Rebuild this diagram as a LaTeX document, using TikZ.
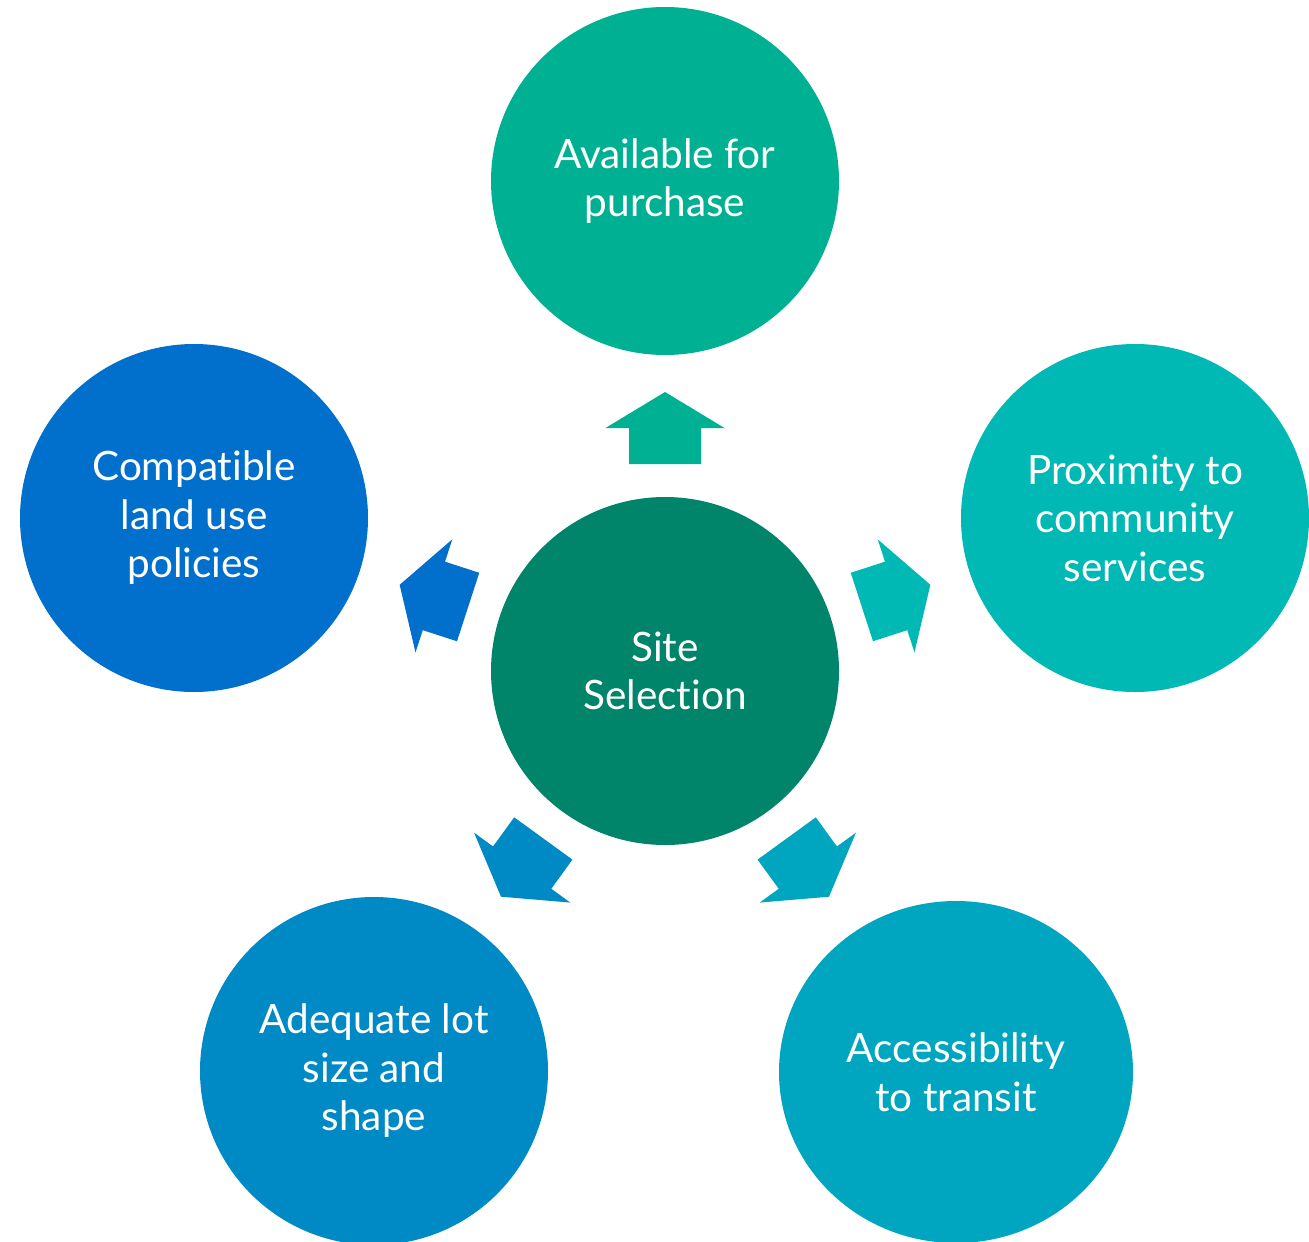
\documentclass[tikz,border=0pt]{standalone}
\usepackage{fontspec}
\setmainfont{Lato}[Ligatures={NoCommon,NoContextual,NoRequired}]
\usetikzlibrary{shapes.geometric}
\definecolor{cCenter}{RGB}{0,133,106}
\definecolor{cTop}{RGB}{0,176,146}
\definecolor{cRight}{RGB}{0,184,180}
\definecolor{cBR}{RGB}{0,166,192}
\definecolor{cBL}{RGB}{0,138,197}
\definecolor{cLeft}{RGB}{0,112,204}
\begin{document}
\begin{tikzpicture}[x=1pt,y=1pt,
  bubble/.style={circle, minimum size=348pt, inner sep=0pt, text=white, align=center,
    font=\fontsize{40.5}{48.5}\selectfont},
  blockarrow/.style={shift={(C.center)}, rotate=#1}]
\useasboundingbox (0,0) rectangle (1309,-1242);
\node[bubble, fill=cCenter] (C) at (665,-671) {Site\\Selection};
\node[bubble, fill=cTop] (T) at (665,-181) {Available for\\purchase};
\node[bubble, fill=cRight] (R) at (1135,-518) {Proximity to\\community\\services};
\node[bubble, ellipse, minimum width=354pt, minimum height=342pt, fill=cBR] (BR) at (956,-1072) {Accessibility\\to transit};
\node[bubble, fill=cBL] (BL) at (374,-1071) {Adequate lot\\size and\\shape};
\node[bubble, fill=cLeft] (L) at (194,-518) {Compatible\\land use\\policies};
\foreach \ang/\col in {90/cTop, 18/cRight, -54/cBR, -126/cBL, 162/cLeft}{
  \fill[\col, blockarrow=\ang] (207,-36) -- (243,-36) -- (243,-59.5) -- (279,0)
     -- (243,59.5) -- (243,36) -- (207,36) -- cycle;
}
\end{tikzpicture}
\end{document}
